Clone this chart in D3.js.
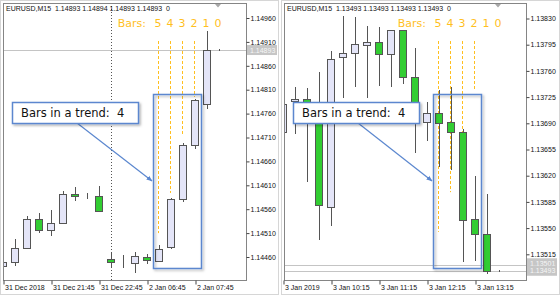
<!DOCTYPE html>
<html>
<head>
<meta charset="utf-8">
<script src="https://cdn.jsdelivr.net/npm/d3@7"></script>
<style>
body { margin: 0; background: #fff; }
svg { display: block; font-family: "Liberation Sans", Arial, sans-serif; }
</style>
</head>
<body>
<svg id="chart" width="560" height="297"></svg>
<script>
// Data: EURUSD M15, left = 31 Dec 2018 -> 2 Jan 2019, right = 3 Jan 2019
// 每根K棒: open / high / low / close (index 0 = 最左邊那根)
const leftOpen  = [1.14441,1.14450,1.14479,1.14540,1.14516,1.14531,1.14592,1.14588,1.14588,1.14456,1.14448,1.14447,1.14460,1.14452,1.14481,1.14581,1.14694,1.14780,1.14893];
const leftHigh  = [1.14452,1.14498,1.14546,1.14552,1.14558,1.14598,1.14606,1.14594,1.14609,1.14468,1.14464,1.14470,1.14466,1.14485,1.14583,1.14698,1.14791,1.14933,1.14895];
const leftLow   = [1.14438,1.14441,1.14477,1.14510,1.14504,1.14530,1.14577,1.14581,1.14554,1.14437,1.14437,1.14427,1.14445,1.14450,1.14477,1.14575,1.14686,1.14770,1.14891];
const leftClose = [1.14450,1.14479,1.14540,1.14516,1.14531,1.14592,1.14588,1.14588,1.14556,1.14450,1.14448,1.14462,1.14454,1.14477,1.14581,1.14694,1.14788,1.14893,1.14893];

const rightOpen  = [1.13679,1.13720,1.13723,1.13707,1.13578,1.13778,1.13784,1.13795,1.13799,1.13783,1.13815,1.13752,1.13692,1.13704,1.13692,1.13679,1.13562,1.13542,1.13493];
const rightHigh  = [1.13718,1.13738,1.13737,1.13758,1.13786,1.13834,1.13832,1.13820,1.13818,1.13815,1.13815,1.13790,1.13718,1.13734,1.13738,1.13683,1.13619,1.13595,1.13494];
const rightLow   = [1.13675,1.13676,1.13611,1.13534,1.13553,1.13724,1.13739,1.13724,1.13740,1.13738,1.13743,1.13650,1.13666,1.13631,1.13627,1.13505,1.13506,1.13489,1.13492];
const rightClose = [1.13716,1.13723,1.13704,1.13581,1.13776,1.13784,1.13796,1.13799,1.13783,1.13815,1.13752,1.13704,1.13704,1.13691,1.13678,1.13561,1.13542,1.13493,1.13493];

// 價格刻度
const leftPriceTicks  = [1.14460,1.14510,1.14560,1.14610,1.14660,1.14710,1.14760,1.14810,1.14860,1.14910,1.14960];
const rightPriceTicks = [1.13515,1.13550,1.13585,1.13620,1.13655,1.13690,1.13725,1.13760,1.13795,1.13830];

// 時間刻度 (每4根一個)
const timeTickIndex   = [0, 4, 8, 12, 16];
const leftTimeLabels  = ['31 Dec 2018', '31 Dec 21:45', '31 Dec 22:45', '2 Jan 06:45', '2 Jan 07:45'];
const rightTimeLabels = ['3 Jan 2019', '3 Jan 10:15', '3 Jan 11:15', '3 Jan 12:15', '3 Jan 13:15'];

// header quotes
const leftQuote  = ['1.14893', '1.14894', '1.14893', '1.14893', '0'];
const rightQuote = ['1.13493', '1.13493', '1.13493', '1.13493', '0'];

// 目前價格線 (灰色)
const leftPriceLines  = [1.14893];
const rightPriceLines = [1.13501, 1.13493];

// "Bars: 5 4 3 2 1 0" 以及橘色虛線的下端
const barNumbers    = [5, 4, 3, 2, 1, 0];
const leftGuideEnd  = [1.14510, 1.14594, 1.14717, 1.14795];
const rightGuideEnd = [1.13545, 1.13598, 1.13678, 1.13734];
const trendBars = 4;

const fmt = d3.format('.5f');
const bullFill = '#e4e5f8', bearFill = '#32cd32', candleStroke = '#555';
const blue = '#5b87cf', orange = '#ffbf1f';

const svg = d3.select('#chart');
const defs = svg.append('defs');
defs.append('filter').attr('id', 'shadow')
    .attr('x', '-20%').attr('y', '-20%').attr('width', '140%').attr('height', '140%')
    .append('feDropShadow')
    .attr('dx', 1.5).attr('dy', 1.5).attr('stdDeviation', 1.2)
    .attr('flood-color', '#000').attr('flood-opacity', 0.3);
defs.append('marker').attr('id', 'arrow')
    .attr('viewBox', '0 0 10 10').attr('refX', 9).attr('refY', 5)
    .attr('markerWidth', 5).attr('markerHeight', 5).attr('orient', 'auto')
    .append('path').attr('d', 'M0,1L10,5L0,9z').attr('fill', blue);

const panels = [
    { id: 'l', ox: 0, plotL: 3, plotR: 246, xStart: 3,
      open: leftOpen, high: leftHigh, low: leftLow, close: leftClose,
      priceTicks: leftPriceTicks, timeLabels: leftTimeLabels, quote: leftQuote,
      priceLines: leftPriceLines, guideEnd: leftGuideEnd,
      yDomain: [1.14460, 1.14960], yRange: [257, 18], separator: 9 },
    { id: 'r', ox: 281, plotL: 284, plotR: 526, xStart: 283,
      open: rightOpen, high: rightHigh, low: rightLow, close: rightClose,
      priceTicks: rightPriceTicks, timeLabels: rightTimeLabels, quote: rightQuote,
      priceLines: rightPriceLines, guideEnd: rightGuideEnd,
      yDomain: [1.13515, 1.13830], yRange: [254.3, 18.5], separator: null }
];

const plotTop = 3, plotBottom = 280;
const half = v => Math.round(v) + 0.5;

function drawPanel(p) {
    const n = p.open.length;
    const bars = d3.range(n).map(i => ({ i, o: p.open[i], h: p.high[i], l: p.low[i], c: p.close[i] }));
    const x = d3.scaleLinear().domain([0, 20.25]).range([p.xStart, p.xStart + 243]);
    const y = d3.scaleLinear().domain(p.yDomain).range(p.yRange);

    const g = svg.append('g');
    // outer frame
    g.append('rect').attr('x', p.ox + 0.5).attr('y', 0.5).attr('width', 278).attr('height', 294)
        .attr('fill', '#fff').attr('stroke', '#d6d6d6');

    g.append('clipPath').attr('id', 'clip-' + p.id).append('rect')
        .attr('x', p.plotL).attr('y', plotTop).attr('width', p.plotR - p.plotL).attr('height', plotBottom - plotTop);
    const plot = g.append('g').attr('clip-path', `url(#clip-${p.id})`);

    // current price lines
    plot.selectAll('.pline').data(p.priceLines).join('line').attr('class', 'pline')
        .attr('x1', p.plotL).attr('x2', p.plotR)
        .attr('y1', d => half(y(d))).attr('y2', d => half(y(d)))
        .attr('stroke', '#c4c4c4');

    // period separator
    if (p.separator !== null) {
        plot.append('line')
            .attr('x1', x(p.separator) + 0.5).attr('x2', x(p.separator) + 0.5)
            .attr('y1', plotTop).attr('y2', plotBottom)
            .attr('stroke', '#555').attr('stroke-dasharray', '1,2');
    }

    // 橘色虛線 (bars 5..2)
    const firstBar = n - barNumbers.length;
    plot.selectAll('.guide').data(p.guideEnd).join('line').attr('class', 'guide')
        .attr('x1', (d, k) => x(firstBar + k) - 0.5).attr('x2', (d, k) => x(firstBar + k) - 0.5)
        .attr('y1', 41).attr('y2', d => y(d))
        .attr('stroke', orange).attr('stroke-dasharray', '3,2');

    // candles
    const cg = plot.selectAll('.candle').data(bars).join('g').attr('class', 'candle');
    cg.append('line')
        .attr('x1', d => x(d.i) + 0.5).attr('x2', d => x(d.i) + 0.5)
        .attr('y1', d => Math.round(y(d.h))).attr('y2', d => Math.round(y(d.l)))
        .attr('stroke', candleStroke);
    cg.append('rect')
        .attr('x', d => x(d.i) - 3.5).attr('width', 7)
        .attr('y', d => half(y(Math.max(d.o, d.c))))
        .attr('height', d => Math.max(0, half(y(Math.min(d.o, d.c))) - half(y(Math.max(d.o, d.c)))))
        .attr('fill', d => d.c >= d.o ? bullFill : bearFill)
        .attr('stroke', candleStroke);

    // plot border
    g.append('rect').attr('x', p.plotL + 0.5).attr('y', plotTop + 0.5)
        .attr('width', p.plotR - p.plotL).attr('height', plotBottom - plotTop)
        .attr('fill', 'none').attr('stroke', '#858585');

    // price axis
    const yAxis = d3.axisRight(y).tickValues(p.priceTicks).tickFormat(fmt).tickSize(3).tickPadding(1);
    const ya = g.append('g').attr('transform', `translate(${p.plotR + 0.5},0)`).call(yAxis);
    ya.select('.domain').remove();
    ya.selectAll('line').attr('stroke', '#444');
    ya.selectAll('text').attr('font-size', 7).attr('fill', '#111').attr('font-family', null);

    // current price labels
    const lab = g.selectAll('.plabel').data(p.priceLines).join('g').attr('class', 'plabel')
        .attr('transform', (d, k) => `translate(${p.plotR + 1},${y(d) + (k === 0 && p.priceLines.length > 1 ? -1.5 : 0)})`);
    lab.append('rect').attr('x', 0).attr('y', -5).attr('width', 30).attr('height', 10).attr('fill', '#c6c6c6');
    lab.append('text').attr('x', 3).attr('y', 2.5).attr('font-size', 7).attr('fill', '#f6f6f6').text(d => fmt(d));

    // time axis
    const xAxis = d3.axisBottom(x).tickValues(timeTickIndex)
        .tickFormat((d, k) => p.timeLabels[k]).tickSize(4).tickPadding(1);
    const xa = g.append('g').attr('transform', `translate(0.5,${plotBottom + 0.5})`).call(xAxis);
    xa.select('.domain').remove();
    xa.selectAll('line').attr('stroke', '#444');
    xa.selectAll('text').attr('font-size', 7).attr('fill', '#111').attr('font-family', null)
        .attr('text-anchor', 'start').attr('x', 1);

    // header
    g.append('text').attr('x', p.plotL + 3).attr('y', 11).attr('font-size', 7).attr('fill', '#111')
        .style('white-space', 'pre')
        .text('EURUSD,M15  ' + p.quote.slice(0, 4).join(' ') + '  ' + p.quote[4]);
    g.append('path')
        .attr('d', `M${p.plotR - 31},4L${p.plotR - 25},4L${p.plotR - 28},7.5Z`)
        .attr('fill', '#a8a8a8');

    // "Bars: 5 4 3 2 1 0"
    g.append('text').attr('x', x(firstBar) - 13).attr('y', 27).attr('text-anchor', 'end')
        .attr('font-family', 'DejaVu Sans').attr('font-size', 11).attr('fill', orange).text('Bars:');
    g.selectAll('.barnum').data(barNumbers).join('text').attr('class', 'barnum')
        .attr('x', (d, k) => x(firstBar + k) - 1).attr('y', 27).attr('text-anchor', 'middle')
        .attr('font-family', 'DejaVu Sans').attr('font-size', 11).attr('fill', orange).text(d => d);

    // trend box (bars 5..2)
    const bx0 = x(firstBar) - 6, bx1 = x(firstBar + trendBars - 1) + 6;
    g.append('rect').attr('x', bx0 + 0.5).attr('y', 94.5).attr('width', bx1 - bx0).attr('height', 174)
        .attr('fill', 'none').attr('stroke', blue).attr('stroke-width', 1.5)
        .attr('filter', 'url(#shadow)');

    // callout + arrow
    const cx0 = p.plotL + 9;
    g.append('line').attr('x1', cx0 + 65).attr('y1', 123).attr('x2', bx0 - 1).attr('y2', 181)
        .attr('stroke', blue).attr('stroke-width', 1.2).attr('marker-end', 'url(#arrow)');
    g.append('rect').attr('x', cx0 + 0.5).attr('y', 102.5).attr('width', 126).attr('height', 21)
        .attr('fill', '#fff').attr('stroke', blue).attr('stroke-width', 1.5)
        .attr('filter', 'url(#shadow)');
    g.append('text').attr('x', cx0 + 9).attr('y', 117).attr('font-family', 'DejaVu Sans')
        .attr('font-size', 11.5).attr('fill', '#111').style('white-space', 'pre')
        .text('Bars in a trend:  ' + trendBars);
}

panels.forEach(drawPanel);
</script>
</body>
</html>
